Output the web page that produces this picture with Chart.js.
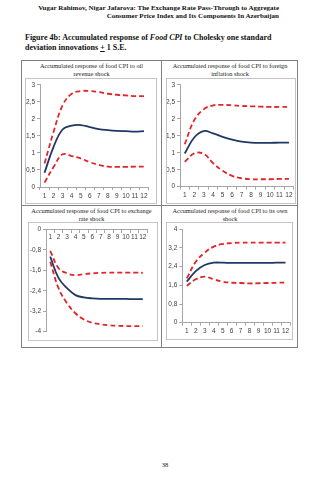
<!DOCTYPE html>
<html lang="en">
<head>
<meta charset="UTF-8">
<title>Figure 4b</title>
<script src="https://cdn.jsdelivr.net/npm/chart.js"></script>
<style>
  body { margin: 0; width: 335px; height: 480px; background: #fff; position: relative; overflow: hidden;
         font-family: "Liberation Serif", "Times New Roman", serif; color: #111; }
  .abs { position: absolute; }
  .head { left: 0; width: 279px; top: 5px; text-align: right; font-weight: bold; font-size: 7px; line-height: 7.5px; }
  .fig { left: 25px; top: 33px; font-weight: bold; font-size: 8px; line-height: 9.6px; }
  .table { left: 21px; top: 60px; width: 277px; height: 288px; border: 1px solid #808080; box-sizing: border-box; }
  .vline { left: 161px; top: 60px; width: 1px; height: 288px; background: #808080; }
  .hline { left: 21px; top: 205px; width: 277px; height: 1px; background: #808080; }
  .ptitle { text-align: center; font-size: 6.3px; line-height: 7.5px; color: #222; }
  .box { border: 1px solid #c4c4c4; background: #fff; }
  .box canvas { display: block; }
  .pnum { left: 155px; top: 461px; width: 20px; text-align: center; font-size: 6.5px; }
</style>
</head>
<body>
  <div class="abs head">Vugar Rahimov, Nigar Jafarova: The Exchange Rate Pass-Through to Aggregate<br>Consumer Price Index and Its Components In Azerbaijan</div>
  <div class="abs fig">Figure 4b: Accumulated response of <i>Food CPI</i> to Cholesky one standard<br>deviation innovations <u>+</u> 1 S.E.</div>

  <div class="abs table"></div>
  <div class="abs vline"></div>
  <div class="abs hline"></div>

  <div class="abs ptitle" style="left:22px; width:139px; top:62px;">Accumulated response of food CPI to oil<br>revenue shock</div>
  <div class="abs ptitle" style="left:162px; width:136px; top:62px;">Accumulated response of food CPI to foreign<br>inflation shock</div>
  <div class="abs ptitle" style="left:22px; width:139px; top:207px;">Accumulated response of food CPI to exchange<br>rate shock</div>
  <div class="abs ptitle" style="left:162px; width:136px; top:207px;">Accumulated response of food CPI to its own<br>shock</div>

  <div class="abs box" style="left:25px; top:78px;"><canvas id="c1" width="130" height="124"></canvas></div>
  <div class="abs box" style="left:166px; top:78px;"><canvas id="c2" width="128" height="124"></canvas></div>
  <div class="abs box" style="left:28px; top:222px;"><canvas id="c3" width="128" height="117"></canvas></div>
  <div class="abs box" style="left:166px; top:222px;"><canvas id="c4" width="125" height="116"></canvas></div>

  <div class="abs pnum">38</div>

<script>
// horizon (periods)
const categories = ['1', '2', '3', '4', '5', '6', '7', '8', '9', '10', '11', '12'];

// oil revenue shock
const oilMid = [0.42, 1.18, 1.69, 1.80, 1.82, 1.76, 1.70, 1.67, 1.65, 1.64, 1.63, 1.64];
const oilUp  = [0.69, 1.62, 2.40, 2.74, 2.82, 2.82, 2.79, 2.74, 2.71, 2.69, 2.67, 2.67];
const oilLo  = [0.13, 0.59, 0.96, 0.91, 0.84, 0.73, 0.65, 0.60, 0.59, 0.59, 0.60, 0.60];
const oilTicks = [0, 0.5, 1, 1.5, 2, 2.5, 3];

// foreign inflation shock
const forMid = [0.98, 1.45, 1.64, 1.57, 1.47, 1.39, 1.33, 1.30, 1.29, 1.29, 1.30, 1.30];
const forUp  = [1.25, 1.96, 2.28, 2.40, 2.41, 2.40, 2.38, 2.37, 2.36, 2.35, 2.35, 2.35];
const forLo  = [0.73, 0.98, 0.97, 0.69, 0.47, 0.32, 0.25, 0.22, 0.22, 0.22, 0.23, 0.23];
const forTicks = [0, 0.5, 1, 1.5, 2, 2.5, 3];

// exchange rate shock
const exMid = [-1.07, -1.91, -2.30, -2.57, -2.66, -2.70, -2.72, -2.72, -2.72, -2.72, -2.73, -2.73];
const exUp  = [-0.84, -1.52, -1.72, -1.79, -1.75, -1.72, -1.70, -1.69, -1.69, -1.69, -1.69, -1.70];
const exLo  = [-1.27, -2.31, -2.89, -3.28, -3.52, -3.65, -3.71, -3.75, -3.77, -3.78, -3.78, -3.78];
const exTicks = [-4, -3.2, -2.4, -1.6, -0.8, 0];

// own shock
const ownMid = [1.76, 2.21, 2.47, 2.57, 2.57, 2.56, 2.56, 2.56, 2.56, 2.56, 2.57, 2.57];
const ownUp  = [1.90, 2.61, 3.00, 3.26, 3.37, 3.41, 3.43, 3.43, 3.43, 3.43, 3.43, 3.43];
const ownLo  = [1.58, 1.86, 1.97, 1.86, 1.76, 1.71, 1.70, 1.68, 1.69, 1.70, 1.71, 1.72];
const ownTicks = [0, 0.8, 1.6, 2.4, 3.2, 4];

const NAVY = '#1f3864';
const RED = '#e0262b';
const AXIS = '#a6a6a6';
const tickFont = { family: '"Liberation Sans", Arial, sans-serif', size: 6.5 };

function band(data) {
    return { data: data, borderColor: RED, borderWidth: 1.8, borderDash: [5, 3], pointRadius: 0, tension: 0.4, fill: false };
}

// lay: left = y-axis width, bottom = x-axis height, top/right = padding, atZero = x axis sits on y=0
function drawPanel(id, mid, up, lo, ticks, lay) {
    return new Chart(document.getElementById(id), {
        type: 'line',
        data: {
            labels: categories,
            datasets: [
                { data: mid, borderColor: NAVY, borderWidth: 1.8, pointRadius: 0, tension: 0.4, fill: false },
                band(up),
                band(lo)
            ]
        },
        options: {
            responsive: false,
            animation: false,
            events: [],
            layout: { padding: { top: lay.top, right: lay.right, bottom: lay.pad || 0, left: 0 } },
            plugins: { legend: { display: false }, tooltip: { enabled: false } },
            scales: {
                x: {
                    position: lay.atZero ? { y: 0 } : 'bottom',
                    offset: true,
                    grid: { offset: true, drawOnChartArea: false, tickLength: 3, color: AXIS },
                    border: { color: AXIS },
                    ticks: { font: tickFont, color: '#404040', padding: lay.atZero ? 1 : 2, maxRotation: 0, autoSkip: false },
                    afterFit: s => { if (!lay.atZero) s.height = lay.bottom; }
                },
                y: {
                    min: ticks[0],
                    max: ticks[ticks.length - 1],
                    grid: { drawOnChartArea: false, tickLength: 3, color: AXIS },
                    border: { color: AXIS },
                    ticks: { font: tickFont, color: '#404040', padding: 2,
                             callback: v => String(v).replace('.', ',') },
                    afterBuildTicks: s => { s.ticks = ticks.map(v => ({ value: v })); },
                    afterFit: s => { s.width = lay.left; }
                }
            }
        }
    });
}

drawPanel('c1', oilMid, oilUp, oilLo, oilTicks, { left: 14, bottom: 16, top: 5.3, right: 7.5 });
drawPanel('c2', forMid, forUp, forLo, forTicks, { left: 13, bottom: 16.3, top: 5.3, right: 1.3 });
drawPanel('c3', exMid, exUp, exLo, exTicks, { left: 17, top: 6.3, right: 10, pad: 8.3, atZero: true });
drawPanel('c4', ownMid, ownUp, ownLo, ownTicks, { left: 15.3, bottom: 16.3, top: 6.3, right: 2 });
</script>
</body>
</html>
